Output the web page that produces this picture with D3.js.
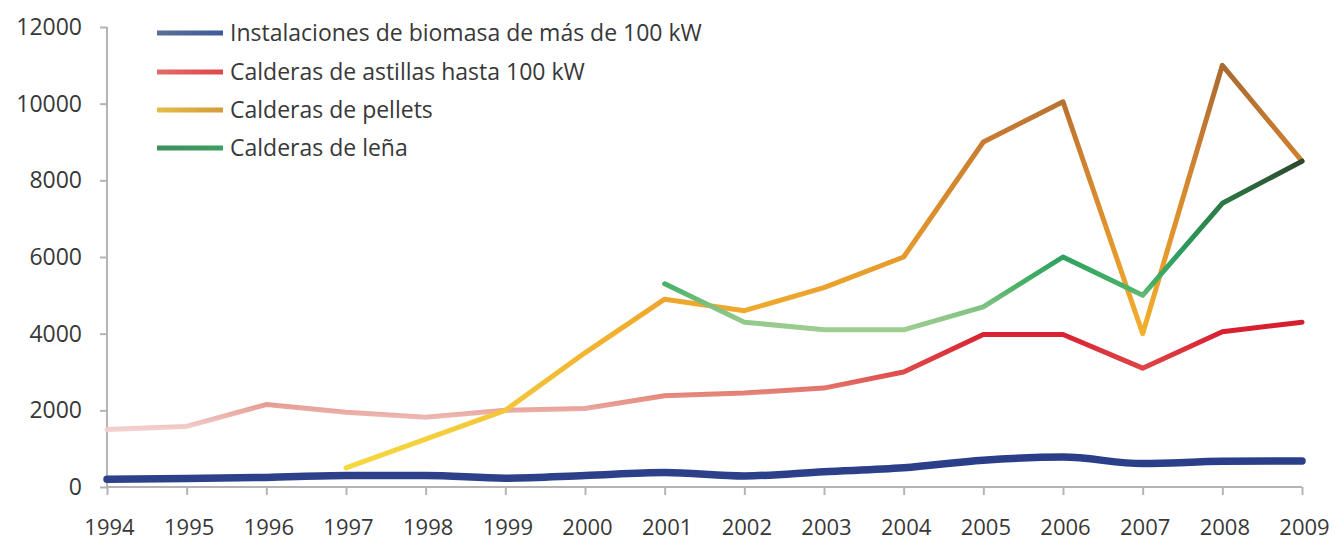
<!DOCTYPE html>
<html><head><meta charset="utf-8">
<script src="https://cdn.jsdelivr.net/npm/d3@7"></script>
<style>
html,body{margin:0;padding:0;background:#fff;}
svg{display:block;}
text{font-family:"Open Sans",sans-serif;fill:#383838;}
</style></head>
<body>
<svg id="chart" width="1336" height="543"></svg>
<script>
// ---- data ----
const years = [1994,1995,1996,1997,1998,1999,2000,2001,2002,2003,2004,2005,2006,2007,2008,2009];
const seriesNames = [
  "Instalaciones de biomasa de más de 100 kW",
  "Calderas de astillas hasta 100 kW",
  "Calderas de pellets",
  "Calderas de leña"
];
const biomasa100 = [200,220,250,300,300,230,300,380,290,400,500,700,780,610,670,680];
const astillas = [1500,1580,2150,1950,1820,2000,2050,2380,2450,2580,3000,3980,3980,3100,4050,4300];
const pellets = [null,null,null,500,1250,2000,3500,4900,4600,5200,6000,9000,10050,4000,11000,8500];
const lena = [null,null,null,null,null,null,null,5300,4300,4100,4100,4700,6000,5000,7400,8500];
const yTicks = [0,2000,4000,6000,8000,10000,12000];

// ---- styles ----
const styles = [
  {width:7.5, curve:d3.curveMonotoneX, stops:[[0,"#2f438b"],[1000,"#283c88"]], legend:["#5b6f98","#3f5a9a"]},
  {width:5, curve:d3.curveLinear, stops:[[1500,"#f3cfcf"],[2000,"#e9aaa2"],[2400,"#e3887a"],[3000,"#e04a48"],[4000,"#d82232"],[4300,"#d41e2e"]], legend:["#e46a6a","#dd4848"]},
  {width:5, curve:d3.curveLinear, stops:[[500,"#f6d840"],[2000,"#f3c63a"],[4000,"#f2b02e"],[6000,"#e69a2c"],[9000,"#c97c30"],[11000,"#a96a32"]], legend:["#e5bb48","#d59a38"]},
  {width:5, curve:d3.curveLinear, stops:[[4000,"#a3cf92"],[4700,"#7fc283"],[5300,"#46b064"],[6000,"#2fa062"],[7400,"#2a7a44"],[8500,"#2f472f"]], legend:["#3f8e5c","#3ba060"]}
];
const seriesData = [biomasa100, astillas, pellets, lena];

const svg = d3.select("#chart");
const x = d3.scaleLinear().domain([1994,2009]).range([107,1302]);
const y = d3.scaleLinear().domain([0,12000]).range([487,27]);

const defs = svg.append("defs");
seriesData.forEach((vals,i)=>{
  const st = styles[i].stops;
  const vmin = st[0][0], vmax = st[st.length-1][0];
  const g = defs.append("linearGradient").attr("id","g"+i)
    .attr("gradientUnits","userSpaceOnUse")
    .attr("x1",0).attr("x2",0).attr("y1",y(vmin)).attr("y2",y(vmax));
  st.forEach(s=>g.append("stop").attr("offset",(s[0]-vmin)/(vmax-vmin)).attr("stop-color",s[1]));
  const lg = defs.append("linearGradient").attr("id","lg"+i);
  lg.append("stop").attr("offset",0).attr("stop-color",styles[i].legend[0]);
  lg.append("stop").attr("offset",1).attr("stop-color",styles[i].legend[1]);
});

// axes
const axisColor = "#b4b4b4";
const yAxis = d3.axisLeft(y).tickValues(yTicks).tickSize(7).tickFormat(d=>String(d));
const gy = svg.append("g").attr("transform","translate(107,0)").call(yAxis);
gy.select(".domain").attr("stroke",axisColor).attr("stroke-width",2).attr("d","M0,"+y(12000)+"V"+y(0));
gy.selectAll(".tick line").attr("stroke",axisColor).attr("stroke-width",2);
gy.selectAll(".tick text").attr("x",-25).attr("font-size",23).attr("fill","#383838").attr("font-family","Open Sans");

const xAxis = d3.axisBottom(x).tickValues(years).tickSize(8).tickFormat(d=>String(d));
const gx = svg.append("g").attr("transform","translate(0,487)").call(xAxis);
gx.select(".domain").attr("stroke",axisColor).attr("stroke-width",2).attr("d","M"+x(1994)+",0H"+x(2009));
gx.selectAll(".tick line").attr("stroke",axisColor).attr("stroke-width",2);
gx.selectAll(".tick text").attr("y",40).attr("dx",2).attr("font-size",22).attr("fill","#383838").attr("font-family","Open Sans").attr("dy","0.35em");

// lines
seriesData.forEach((vals,i)=>{
  const line = d3.line()
    .defined(d=>d.v!==null)
    .x(d=>x(d.yr)).y(d=>y(d.v))
    .curve(styles[i].curve);
  svg.append("path")
    .datum(years.map((yr,k)=>({yr:yr,v:vals[k]})))
    .attr("d",line)
    .attr("fill","none")
    .attr("stroke","url(#g"+i+")")
    .attr("stroke-width",styles[i].width)
    .attr("stroke-linejoin","round")
    .attr("stroke-linecap","round");
});

// legend
const legY = [33,72,110,148];
const leg = svg.append("g");
seriesNames.forEach((n,i)=>{
  leg.append("rect").attr("x",157).attr("y",legY[i]-2.5).attr("width",66).attr("height",5)
    .attr("fill","url(#lg"+i+")");
  leg.append("text").attr("x",230).attr("y",legY[i]).attr("dy","0.35em")
    .attr("font-size",23).text(n);
});
</script>
</body></html>
